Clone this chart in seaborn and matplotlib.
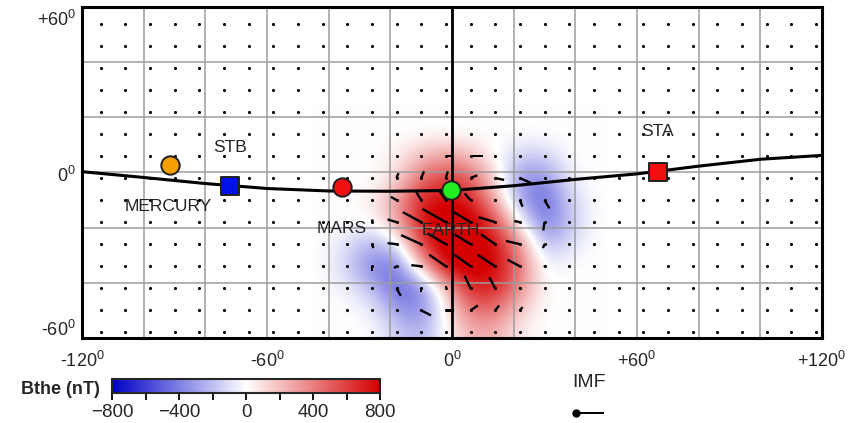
import numpy as np
import matplotlib
matplotlib.use("Agg")
import matplotlib.pyplot as plt
import seaborn as sns
from matplotlib.colors import LinearSegmentedColormap
from matplotlib.ticker import FixedLocator

# ---- data ----
# Bthe field (nT) on the 8-degree dot grid around Earth
field_lon = [-42, -34, -26, -18, -10, -2, 6, 14, 22, 30, 38, 46]
field_lat = [22, 14, 6, -2, -10, -18, -26, -34, -42, -50, -58]
bthe = [
    [0, 0, 0, 0, 0, 0, 0, 0, 0, 0, 0, 0],
    [0, 0, 0, 0, 0, 0, 0, 0, 0, 0, 0, 0],
    [0, 0, 0, 50, 200, 300, 200, 0, -150, -150, 0, 0],
    [0, 0, 0, 100, 450, 600, 500, 100, -350, -350, -50, 0],
    [0, 0, 50, 300, 700, 800, 700, 250, -300, -500, -150, 0],
    [0, 0, 0, 250, 750, 900, 900, 550, 0, -450, -200, 0],
    [0, -100, -250, -100, 600, 900, 900, 750, 350, -250, -100, 0],
    [0, -150, -400, -450, 200, 800, 900, 800, 450, -50, 0, 0],
    [0, -50, -200, -500, -400, 200, 700, 700, 350, 0, 0, 0],
    [0, 0, -50, -300, -400, 50, 450, 450, 150, 0, 0, 0],
    [0, 0, 0, -150, -250, 0, 250, 250, 50, 0, 0, 0],
]

# IMF direction dashes (tail at grid dot, components in degrees)
vec_lon = [-2, 6,
           -18, -10, -2, 6, 14, 22,
           -18, -10, -2, 6, 14, 22, 30,
           -26, -18, -10, -2, 6, 14, 22, 30,
           -26, -18, -10, -2, 6, 14, 22, 30,
           -26, -18, -10, -2, 6, 14, 22, 30,
           -18, -10, -2, 6, 14, 22,
           -10, -2, 6, 14, 22]
vec_lat = [6, 6,
           -2, -2, -2, -2, -2, -2,
           -10, -10, -10, -10, -10, -10, -10,
           -18, -18, -18, -18, -18, -18, -18, -18,
           -26, -26, -26, -26, -26, -26, -26, -26,
           -34, -34, -34, -34, -34, -34, -34, -34,
           -42, -42, -42, -42, -42, -42,
           -50, -50, -50, -50, -50]
vec_u = [1.6, 4.0,
         0.65, 0.9, 0.65, 2.2, 2.9, 3.6,
         -1.8, -1.6, -2.2, -1.9, 0.3, 0.9, 1.6,
         0.3, -2.9, -5.9, -7.6, -6.3, -5.4, -1.8, -0.4,
         0.5, -2.9, -6.5, -5.9, -5.2, -4.6, -4.5, -0.5,
         0.0, -0.8, -3.2, -5.4, -5.2, -5.7, -4.0, -0.5,
         1.4, 0.0, 0.0, -1.9, -1.9, 0.0,
         3.2, 2.7, 2.4, 1.3, 0.9]
vec_v = [0.0, 0.0,
         1.8, 2.4, 2.4, 1.0, -0.7, -1.8,
         1.2, 3.0, 3.6, 2.4, 0.4, -2.4, -3.0,
         1.0, 1.0, 3.6, 4.8, 4.2, 1.8, 0.4, -3.0,
         -1.4, 0.4, 3.3, 3.9, 3.6, 3.6, 1.2, -1.4,
         -1.8, -0.6, 0.4, 4.2, 4.2, 4.2, 2.4, 0.1,
         -2.7, -1.4, 1.0, 4.6, 4.0, 0.6,
         -1.8, 0.0, 1.8, 1.8, 1.2]

# ecliptic trace
curve_lon = [-120, -100, -80, -60, -40, -20, 0, 20, 40, 60, 80, 100, 120]
curve_lat = [0.3, -1.8, -4.0, -5.8, -6.7, -6.8, -6.5, -4.8, -2.5, -0.5, 2.3, 4.8, 6.2]

# bodies / spacecraft
body_names = ["MERCURY", "STB", "MARS", "EARTH", "STA"]
body_lon = [-91.5, -72.0, -35.7, -0.2, 66.8]
body_lat = [2.8, -4.9, -5.2, -6.3, 0.2]
body_color = ["#f5a000", "#0010e8", "#f01010", "#22ee22", "#f01010"]
body_marker = ["o", "s", "o", "o", "s"]
label_lon = [-92.1, -72.0, -35.7, -0.3, 66.8]
label_lat = [-12.5, 8.9, -20.4, -21.2, 14.7]

xtick_vals = [-120, -60, 0, 60, 120]
xtick_text = ["-120$^0$", "-60$^0$", "0$^0$", "+60$^0$", "+120$^0$"]
ytick_text = ["+60$^0$", "0$^0$", "-60$^0$"]
ytick_pos = [55.3, -1.4, -57.0]

cbar_ticks = [-800, -400, 0, 400, 800]
cbar_minor = [-600, -200, 200, 600]

# ---- style ----
sns.set_style("white")
plt.rcParams["font.family"] = ["Liberation Sans", "DejaVu Sans"]
plt.rcParams["mathtext.fontset"] = "custom"
plt.rcParams["mathtext.rm"] = "Liberation Sans"
plt.rcParams["mathtext.default"] = "regular"

fig = plt.figure(figsize=(8.58, 4.23), dpi=100)
ax = fig.add_axes([82 / 858, 85 / 423, 740 / 858, 331 / 423])

cmap = LinearSegmentedColormap.from_list("bthe", ["#0000c8", "#ffffff", "#d40000"])
step = 8
ext = [field_lon[0] - step / 2, field_lon[-1] + step / 2,
       field_lat[-1] - step / 2, field_lat[0] + step / 2]
im = ax.imshow(np.array(bthe, dtype=float), extent=ext, origin="upper", cmap=cmap,
               vmin=-800, vmax=800, interpolation="bicubic", aspect="auto", zorder=0)

ax.set_xlim(-120, 120)
ax.set_ylim(-60, 60)
ax.set_xticks(range(-120, 121, 20))
ax.set_xticklabels([xtick_text[xtick_vals.index(v)] if v in xtick_vals else ""
                    for v in range(-120, 121, 20)])
ax.set_yticks(range(-60, 61, 20))
ax.set_yticklabels([])
ax.tick_params(axis="both", length=0, labelsize=13, pad=9)
ax.grid(True, color="#9c9c9c", lw=1.1)
ax.set_axisbelow(False)
for sp in ax.spines.values():
    sp.set_linewidth(2.2)
    sp.set_color("black")
    sp.set_zorder(10)

for txt, yp in zip(ytick_text, ytick_pos):
    ax.text(-0.008, yp, txt, transform=ax.get_yaxis_transform(), ha="right",
            va="center", fontsize=13)

# grid of dots
gx, gy = np.meshgrid(np.arange(-114, 119, 8), np.arange(54, -59, -8))
sns.scatterplot(x=gx.ravel(), y=gy.ravel(), s=5, color="black", linewidth=0,
                ax=ax, zorder=3, legend=False)

ax.axvline(0, color="black", lw=2.0, zorder=3.5)

q = ax.quiver(vec_lon, vec_lat, vec_u, vec_v, angles="xy", scale_units="xy", scale=1,
              headwidth=1, headlength=0, headaxislength=0, width=0.0032,
              color="black", pivot="tail", zorder=3.6)

sns.lineplot(x=curve_lon, y=curve_lat, color="black", lw=2.2, sort=False,
             estimator=None, ax=ax, zorder=4)

for lo, la, c, m in zip(body_lon, body_lat, body_color, body_marker):
    ax.scatter([lo], [la], s=175 if m == "o" else 165, c=c, marker=m,
               edgecolors="#202020", linewidths=1.4, zorder=5)

for name, lo, la in zip(body_names, label_lon, label_lat):
    ax.text(lo, la, name, ha="center", va="center", fontsize=12.5, color="#222222",
            zorder=6)

# colour bar
cax = fig.add_axes([112 / 858, 30 / 423, 268 / 858, 14 / 423])
cb = fig.colorbar(im, cax=cax, orientation="horizontal", ticks=cbar_ticks)
cb.ax.xaxis.set_minor_locator(FixedLocator(cbar_minor))
cb.ax.tick_params(which="both", length=5, width=1.3, direction="out", labelsize=13.5,
                  pad=3, color="black")
cb.outline.set_linewidth(1.5)
fig.text(100 / 858, 1 - 389 / 423, "Bthe (nT)", ha="right", va="center",
         fontsize=13, fontweight="bold")

# IMF key
ax.quiverkey(q, 589.5 / 858, 1 - 413 / 423, 8.76, "IMF", coordinates="figure",
             labelpos="N", labelsep=0.22, fontproperties={"size": 14})
fig.add_artist(plt.Line2D([576 / 858], [1 - 413 / 423], marker="o", ms=5,
                          color="black", transform=fig.transFigure))

fig.savefig("out.png", dpi=100)
